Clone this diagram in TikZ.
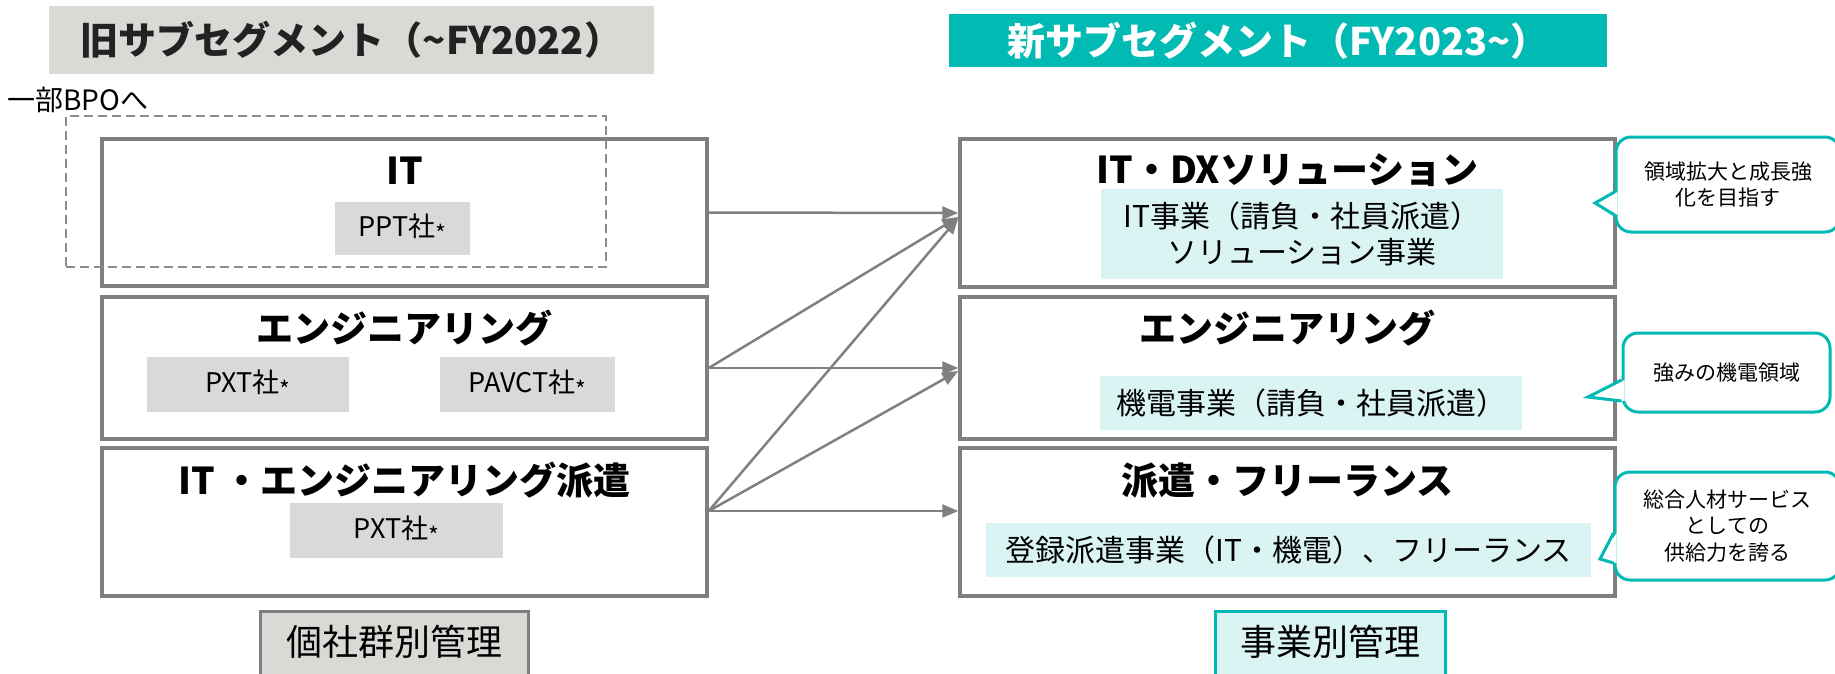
\documentclass[tikz,border=0pt]{standalone}
\usepackage{fontspec}
\setmainfont{Noto Sans CJK JP}
\usetikzlibrary{arrows.meta, positioning, calc}
\definecolor{boxgray}{HTML}{7F7F7F}
\definecolor{arrowgray}{HTML}{808080}
\definecolor{dashgray}{HTML}{8C8C8C}
\definecolor{cogray}{HTML}{D9D9D9}
\definecolor{hdgray}{HTML}{D9DAD6}
\definecolor{hdtext}{HTML}{222222}
\definecolor{teal1}{HTML}{00BAB3}
\definecolor{lteal}{HTML}{DAF4F3}
\newcommand{\fsz}[2]{\fontsize{#1}{#2}\selectfont}
\newcommand{\coast}{\raisebox{-6pt}{\fsz{23}{23}*}}
\tikzset{
	head/.style={inner sep=0pt, font=\fsz{38}{40}\bfseries},
	mgmt/.style={line width=3pt, inner sep=0pt, minimum height=76pt, text height=28pt, text depth=16pt, font=\fsz{36}{40}},
	link/.style={draw=arrowgray, line width=2.5pt, -{Triangle[length=16pt, width=13pt]}}
}

\begin{document}
\begin{tikzpicture}[x=1pt, y=-1pt,
	% Styles
	seg/.style = {draw=boxgray, line width=3.5pt, fill=white, minimum width=605pt, inner sep=0pt},
	newseg/.style = {seg, minimum width=655pt},
	segtitle/.style = {inner sep=0pt, font=\fsz{37}{40}\bfseries},
	co/.style = {fill=cogray, inner sep=0pt, minimum height=55pt, font=\fsz{27}{30}},
	biz/.style = {fill=lteal, inner sep=0pt, align=center, font=\fsz{30}{36}},
	note/.style = {draw=teal1, line width=3pt, fill=white, rounded corners=15pt, align=center, inner sep=0pt, font=\fsz{21}{26.5}},
	notetip/.style = {draw=teal1, line width=3pt, line join=miter}
	]
	\useasboundingbox (0,0) rectangle (1835,674);
	
	% Headings
	\node[head, fill=hdgray, text=hdtext, minimum width=605pt, minimum height=68pt] (oldhd) at (351.5,40) {旧サブセグメント（\textasciitilde FY2022）};
	\node[head, fill=teal1, text=white, minimum width=658pt, minimum height=53pt] (newhd) at (1278,40.5) {新サブセグメント（FY2023\textasciitilde）};
	
	% Left column: old segments
	\node[seg, minimum height=147pt] (L1) at (404.5,212.5) {};
	\node[seg, minimum height=142pt] (L2) at (404.5,368) {};
	\node[seg, minimum height=148pt] (L3) at (404.5,522) {};
	
	\node[segtitle] (L1t) at ($(L1.north)+(0,33)$) {IT};
	\node[segtitle] (L2t) at ($(L2.north)+(0,33)$) {エンジニアリング};
	\node[segtitle] (L3t) at ($(L3.north)+(0,34)$) {IT ・エンジニアリング派遣};
	
	\node[co, minimum width=135pt, minimum height=53pt] (ppt) at (402.5,228.5) {PPT社\coast};
	\node[co, minimum width=202pt] (pxt) at (248,384.5) {PXT社\coast};
	\node[co, minimum width=175pt] (pavct) at (527.5,384.5) {PAVCT社\coast};
	\node[co, minimum width=213pt] (pxtb) at (396.5,530.5) {PXT社\coast};
	
	% part of IT goes to BPO
	\node[draw=dashgray, line width=2.5pt, dash pattern=on 9pt off 5pt, minimum width=540pt, minimum height=151pt, inner sep=0pt] (bpo) at (336,191.5) {};
	\node[anchor=west, inner sep=0pt, font=\fsz{28}{30}] (bpotxt) at (7,100) {一部BPOへ};
	
	% Right column: new segments
	\node[newseg, minimum height=148pt] (R1) at (1287.5,213) {};
	\node[newseg, minimum height=142pt] (R2) at (1287.5,368) {};
	\node[newseg, minimum height=148pt] (R3) at (1287.5,522) {};
	
	\node[segtitle] (R1t) at ($(R1.north)+(0,33)$) {IT・DXソリューション};
	\node[segtitle] (R2t) at ($(R2.north)+(0,33)$) {エンジニアリング};
	\node[segtitle] (R3t) at ($(R3.north)+(0,34)$) {派遣・フリーランス};
	
	\node[biz, minimum width=402pt, minimum height=90pt] (itbiz) at (1302,234) {IT事業（請負・社員派遣）\\ソリューション事業};
	\node[biz, minimum width=422pt, minimum height=54pt] (kiden) at (1311,403) {機電事業（請負・社員派遣）};
	\node[biz, minimum width=605pt, minimum height=54pt] (haken) at (1288.5,550) {登録派遣事業（IT・機電）、フリーランス};
	
	% Paths
	\draw[link] (L1.east) -- (R1.west);
	\draw[link] (L2.east) -- ($(R1.west)+(0,4)$);
	\draw[link] (L2.east) -- (R2.west);
	\draw[link] ($(L3.east)+(0,-11)$) -- ($(R1.west)+(0,5)$);
	\draw[link] ($(L3.east)+(0,-11)$) -- ($(R2.west)+(0,3)$);
	\draw[link] ($(L3.east)+(0,-11)$) -- ($(R3.west)+(0,-11)$);
	
	% Callouts
	\node[note, minimum width=224pt, minimum height=95pt] (c1) at (1728,184.5) {領域拡大と成長強\\化を目指す};
	\node[note, minimum width=207pt, minimum height=79pt] (c2) at (1726.5,372.5) {強みの機電領域};
	\node[note, minimum width=225pt, minimum height=108pt] (c3) at (1727.5,526) {総合人材サービス\\としての\\供給力を誇る};
	
	\coordinate (c1tip) at (1595,203);
	\coordinate (c2tip) at (1588,397);
	\coordinate (c3tip) at (1600,559);
	
	\fill[white] ($(c1.west)+(3,7.5)$) -- (c1tip) -- ($(c1.west)+(3,30.5)$) -- cycle;
	\draw[notetip] ($(c1.west)+(0,7.5)$) -- (c1tip) -- ($(c1.west)+(0,30.5)$);
	\fill[white] ($(c2.west)+(3,7.5)$) -- (c2tip) -- ($(c2.west)+(3,28.5)$) -- cycle;
	\draw[notetip] ($(c2.west)+(0,7.5)$) -- (c2tip) -- ($(c2.west)+(0,28.5)$);
	\fill[white] ($(c3.west)+(3,7)$) -- (c3tip) -- ($(c3.west)+(3,37)$) -- cycle;
	\draw[notetip] ($(c3.west)+(0,7)$) -- (c3tip) -- ($(c3.west)+(0,37)$);
	
	% Bottom labels
	\node[mgmt, draw=boxgray, fill=hdgray, minimum width=268pt, anchor=north] (kosha) at (394,610) {個社群別管理};
	\node[mgmt, draw=teal1, fill=lteal, minimum width=230pt, anchor=north] (jigyo) at (1330,610) {事業別管理};
	
\end{tikzpicture}
\end{document}
